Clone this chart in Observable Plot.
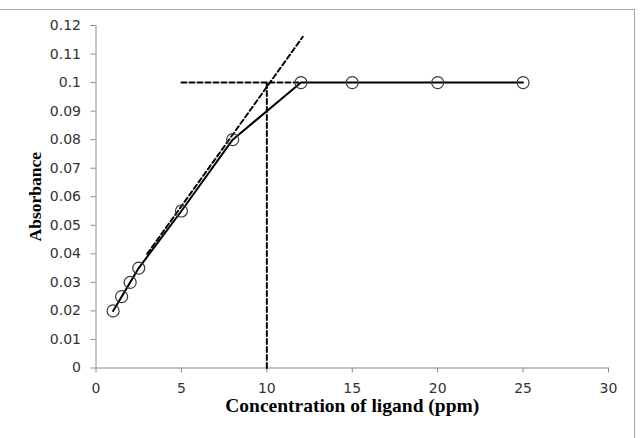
<!DOCTYPE html>
<html>
<head>
<meta charset="utf-8">
<script src="https://cdn.jsdelivr.net/npm/d3@7"></script>
<script src="https://cdn.jsdelivr.net/npm/@observablehq/plot@0.6"></script>
<style>
  html, body { margin: 0; padding: 0; background: #fff; }
  #wrap { position: relative; width: 642px; height: 438px; overflow: hidden; }
  #frame {
    position: absolute; left: 0; top: 9px; width: 635px; height: 440px;
    border-top: 1px solid #a6a6a6; border-right: 1px solid #a6a6a6;
    box-sizing: border-box; pointer-events: none;
  }
</style>
</head>
<body>
<div id="wrap"><div id="frame"></div></div>
<script>
// Measured absorbance vs. ligand concentration
const concentration = [1, 1.5, 2, 2.5, 5, 8, 12, 15, 20, 25];
const absorbance = [0.02, 0.025, 0.03, 0.035, 0.055, 0.08, 0.1, 0.1, 0.1, 0.1];

// Extrapolated linear region (dashed tangent)
const tangentX = [3.0, 12.1];
const tangentY = [0.040, 0.116];

// Saturation plateau and the intersection drop line
const plateauX = [5, 12];
const plateauY = [0.1, 0.1];
const dropX = [10, 10];
const dropY = [0, 0.1];

// Axis ticks
const xTicks = [0, 5, 10, 15, 20, 25, 30];
const xTickLabels = ["0", "5", "10", "15", "20", "25", "30"];
const yTicks = [0, 0.01, 0.02, 0.03, 0.04, 0.05, 0.06, 0.07, 0.08, 0.09, 0.1, 0.11, 0.12];
const yTickLabels = ["0", "0.01", "0.02", "0.03", "0.04", "0.05", "0.06", "0.07", "0.08", "0.09", "0.1", "0.11", "0.12"];

const xTitle = "Concentration of ligand (ppm)";
const yTitle = "Absorbance";

const measured = concentration.map((c, i) => ({x: c, y: absorbance[i]}));
const tangent = tangentX.map((x, i) => ({x, y: tangentY[i]}));
const plateau = plateauX.map((x, i) => ({x, y: plateauY[i]}));
const drop = dropX.map((x, i) => ({x, y: dropY[i]}));

const axisGray = "#8c8c8c";
const labelGray = "#333333";
const tickFont = "DejaVu Sans, Verdana, sans-serif";
const titleFont = "Liberation Serif, Times New Roman, serif";

const chart = Plot.plot({
  width: 642,
  height: 438,
  marginLeft: 95.5,
  marginRight: 34,
  marginTop: 25,
  marginBottom: 70.5,
  style: {background: "transparent", overflow: "visible"},
  x: {domain: [0, 30]},
  y: {domain: [0, 0.12]},
  marks: [
    Plot.ruleY([0], {stroke: axisGray, strokeWidth: 1}),
    Plot.ruleX([0], {stroke: axisGray, strokeWidth: 1}),
    // tick marks only; labels drawn as text marks below
    Plot.axisX({ticks: xTicks, tickSize: 5, tickFormat: () => "", stroke: axisGray, label: null}),
    Plot.axisY({ticks: yTicks, tickSize: 5, tickFormat: () => "", stroke: axisGray, label: null}),
    Plot.text(xTicks, {
      x: d => d, text: (d, i) => xTickLabels[i], frameAnchor: "bottom", dy: 20.5,
      lineAnchor: "middle", fontSize: 14, fontFamily: tickFont, fill: labelGray
    }),
    Plot.text(yTicks, {
      y: d => d, text: (d, i) => yTickLabels[i], frameAnchor: "left", dx: -15,
      textAnchor: "end", fontSize: 14, fontFamily: tickFont, fill: labelGray
    }),
    Plot.line(drop, {x: "x", y: "y", stroke: "#000", strokeWidth: 2, strokeDasharray: "5,3"}),
    Plot.line(plateau, {x: "x", y: "y", stroke: "#000", strokeWidth: 2, strokeDasharray: "5,3"}),
    Plot.line(tangent, {x: "x", y: "y", stroke: "#000", strokeWidth: 2, strokeDasharray: "5,3"}),
    Plot.line(measured, {x: "x", y: "y", stroke: "#000", strokeWidth: 2}),
    Plot.dot(measured, {x: "x", y: "y", r: 6, stroke: "#3c3c3c", strokeWidth: 1.2, fill: "none"}),
    Plot.text([xTitle], {
      frameAnchor: "bottom", dy: 44, text: d => d, fontSize: 19.5, fontWeight: "bold",
      fontFamily: titleFont, fill: "#000"
    }),
    Plot.text([yTitle], {
      frameAnchor: "left", dx: -61, rotate: -90, textAnchor: "middle", text: d => d,
      fontSize: 17.5, fontWeight: "bold", fontFamily: titleFont, fill: "#000"
    })
  ]
});

document.getElementById("wrap").prepend(chart);
</script>
</body>
</html>
